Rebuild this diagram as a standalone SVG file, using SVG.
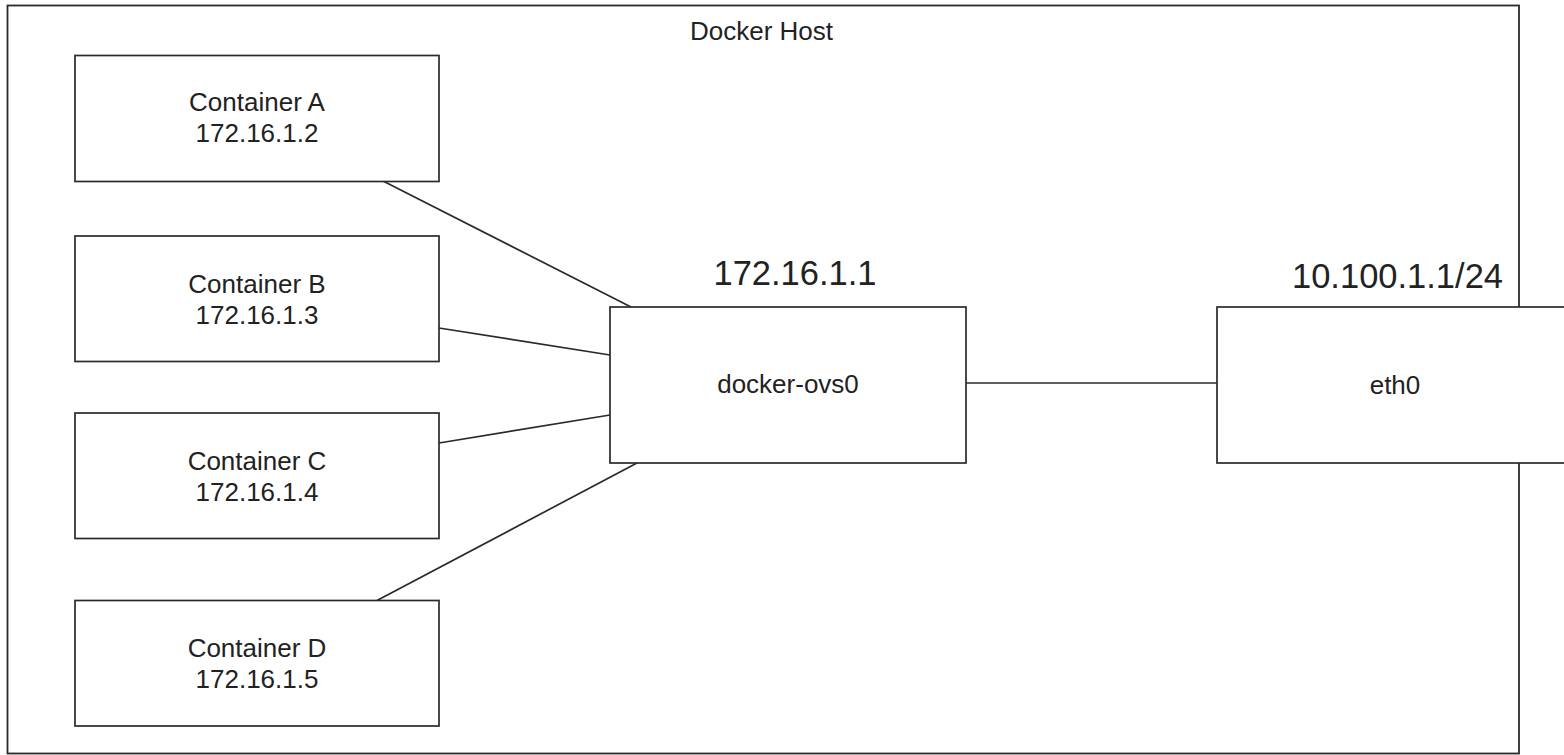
<svg xmlns="http://www.w3.org/2000/svg" width="1564" height="755" viewBox="0 0 1564 755">
<style>
.box{fill:#fff;stroke:#2a2a2a;stroke-width:1.7}
.host{fill:#fff;stroke:#2a2a2a;stroke-width:1.8}
.lbl{font-family:"Liberation Sans",Arial,sans-serif;font-size:26px;fill:#222;text-anchor:middle}
.big{font-family:"Liberation Sans",Arial,sans-serif;font-size:34.5px;fill:#222;text-anchor:middle}
.conn line{stroke:#2a2a2a;stroke-width:1.7}
</style>
<rect width="1564" height="755" fill="#fff"/>
<g id="docker-host">
<rect class="host" x="7.5" y="5.5" width="1511.5" height="748"/>
<text class="lbl" x="761.5" y="40">Docker Host</text>
</g>
<g id="connectors" class="conn">
<line x1="383" y1="181" x2="631" y2="307"/>
<line x1="439" y1="328" x2="610" y2="355"/>
<line x1="439" y1="443" x2="610" y2="415"/>
<line x1="377" y1="600.5" x2="637" y2="463"/>
<line x1="966" y1="383" x2="1217" y2="383"/>
</g>
<g id="container-a">
<rect class="box" x="75" y="55.5" width="364" height="126"/>
<text class="lbl" x="257" y="111">Container A</text>
<text class="lbl" x="257" y="142">172.16.1.2</text>
</g>
<g id="container-b">
<rect class="box" x="75" y="236" width="364" height="125.5"/>
<text class="lbl" x="257" y="293">Container B</text>
<text class="lbl" x="257" y="324">172.16.1.3</text>
</g>
<g id="container-c">
<rect class="box" x="75" y="413" width="364" height="125.5"/>
<text class="lbl" x="257" y="470">Container C</text>
<text class="lbl" x="257" y="501">172.16.1.4</text>
</g>
<g id="container-d">
<rect class="box" x="75" y="600.5" width="364" height="125.5"/>
<text class="lbl" x="257" y="657">Container D</text>
<text class="lbl" x="257" y="688">172.16.1.5</text>
</g>
<g id="docker-ovs0">
<rect class="box" x="610" y="307" width="356" height="156"/>
<text class="lbl" x="788" y="393">docker-ovs0</text>
<text class="big" x="795" y="285">172.16.1.1</text>
</g>
<g id="eth0">
<rect class="box" x="1217" y="307" width="356" height="156"/>
<text class="lbl" x="1395" y="394">eth0</text>
<text class="big" x="1397.5" y="288">10.100.1.1/24</text>
</g>
</svg>
